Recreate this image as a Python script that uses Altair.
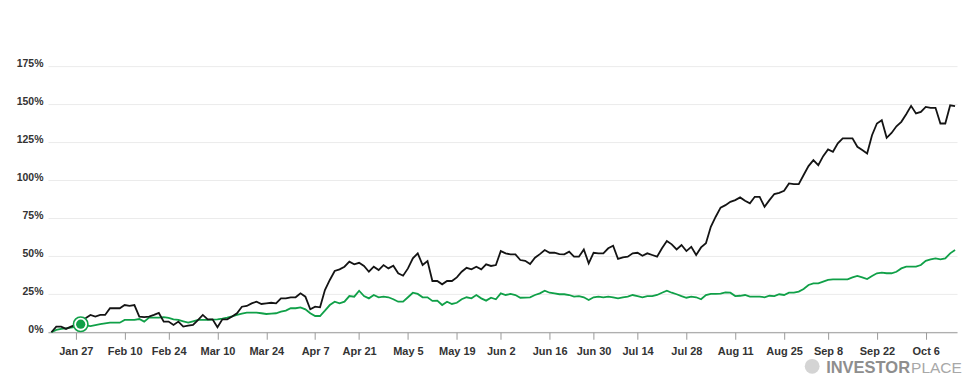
import altair as alt
import pandas as pd

# NYSE holidays 2025 inside the window
holidays = ["2025-01-20", "2025-02-17", "2025-04-18", "2025-05-26",
            "2025-06-19", "2025-07-04", "2025-09-01"]
dates = pd.bdate_range("2025-01-17", "2025-10-14", freq="C", holidays=holidays)
date_str = list(dates.strftime("%Y-%m-%d"))

stock = [
    0, 3.7, 3.7, 2.2, 3.7, 4.8, 8, 9.2, 11.4, 10.3,
    11.4, 11.4, 15.8, 15.8, 15.8, 17.9, 17.3, 17.9, 10.3, 9.9,
    10.3, 11.4, 12.7, 7, 7, 4.8, 7, 3.7, 4.3, 4.8,
    8, 11.4, 8.5, 8.5, 3.3, 8.5, 8.5, 10.3, 12.5, 16.8,
    17.3, 19, 20.1, 18.6, 19, 19.4, 19, 22.3, 22.3, 23,
    23, 25.6, 23.4, 15.1, 16.8, 16.4, 27.8, 34.4, 40.3, 41.4,
    43.1, 46.4, 44.7, 45.7, 43.6, 39.8, 43.1, 40.9, 44.2, 42,
    43.8, 38.8, 37.2, 42, 48.6, 51.9, 44.2, 46.8, 33.7, 33.7,
    31.5, 33.7, 33.7, 36.1, 39.8, 42.4, 41.4, 43.1, 41.4, 44.7,
    43.6, 44.2, 53.4, 51.9, 51.2, 51.2, 47.5, 47, 44.9, 49,
    51.4, 54.1, 52.3, 52.3, 51.4, 51.2, 53, 49.7, 49.7, 54.5,
    45.3, 52.3, 51.9, 51.9, 55.2, 56.9, 48.2, 49.3, 49.7, 51.9,
    52.3, 50.3, 51.9, 50.8, 49.7, 55.2, 60, 57.8, 54.5, 57.4,
    53.4, 56.2, 50.8, 55.8, 58.5, 69.4, 76, 82, 83.6, 85.8,
    86.9, 88.7, 86.5, 84.8, 89.1, 89.1, 82.5, 86.9, 90.9, 91.7,
    93, 97.9, 97.4, 97.4, 103.4, 109.3, 113.2, 109.9, 115.8, 120.2,
    118.7, 124.2, 127.5, 127.5, 127.5, 122, 119.8, 117.6, 129.6, 137.3,
    139.5, 127.9, 131.1, 135.5, 138.4, 143.4, 148.9, 143.9, 144.9, 148.2,
    147.6, 147.6, 137.3, 137.3, 149.3, 148.7,
]

bench = [
    0, 1.5, 2.2, 2.6, 3, 3.5, 4.8, 4.5, 4.1, 4.7,
    5.3, 5.8, 6.3, 6.3, 6.3, 8.1, 8.1, 8.1, 8.7, 7,
    9.6, 9.6, 9.6, 10, 9.4, 8.5, 8.1, 7.2, 6.3, 7.2,
    8.1, 8.1, 8.1, 8.3, 8.5, 9, 9.6, 10.5, 11.4, 12.2,
    12.9, 12.9, 12.9, 12.5, 12, 12.3, 12.5, 13.5, 14.2, 15.8,
    15.8, 16.4, 15.1, 12.5, 10.7, 10.7, 14.2, 17.9, 20.1, 19,
    20.1, 23.8, 23.4, 27.3, 23.8, 22.3, 24.5, 23, 23.4, 23,
    21.7, 20.1, 20.1, 23, 26, 25.2, 23, 23, 20.6, 20.8,
    17.9, 20.1, 18.6, 19.4, 21.7, 23, 22.3, 24.5, 22.3, 20.8,
    22.7, 21.7, 25.6, 24.5, 25.2, 24.5, 22.7, 22.8, 23, 24.5,
    25.6, 27.3, 26, 25.6, 25, 25, 24.5, 23.4, 23.8, 23,
    21.2, 23, 23.4, 23, 23.4, 23, 22.3, 23, 23.4, 24.5,
    23.8, 23, 23.8, 23.8, 24.5, 26, 27.3, 26, 25, 23.8,
    22.7, 23.4, 23, 21.7, 24.5, 25.2, 25.2, 25.4, 26.2, 26,
    23.8, 24, 24.5, 23.4, 23.4, 23.4, 23, 24, 23.8, 25,
    24.5, 26, 26, 26.7, 28.5, 31.1, 32.2, 32.2, 33.3, 34.4,
    34.8, 34.8, 34.8, 34.8, 36.1, 37, 36.1, 35, 37, 38.8,
    39.2, 38.8, 38.8, 39.8, 42, 43.1, 43.1, 43.1, 44.2, 47,
    47.9, 48.6, 47.9, 48.6, 51.9, 54.1,
]

tick_dates = ["2025-01-27", "2025-02-10", "2025-02-24", "2025-03-10", "2025-03-24",
              "2025-04-07", "2025-04-21", "2025-05-05", "2025-05-19", "2025-06-02",
              "2025-06-16", "2025-06-30", "2025-07-14", "2025-07-28", "2025-08-11",
              "2025-08-25", "2025-09-08", "2025-09-22", "2025-10-06"]
tick_labels = ["Jan 27", "Feb 10", "Feb 24", "Mar 10", "Mar 24", "Apr 7", "Apr 21",
               "May 5", "May 19", "Jun 2", "Jun 16", "Jun 30", "Jul 14", "Jul 28",
               "Aug 11", "Aug 25", "Sep 8", "Sep 22", "Oct 6"]
y_ticks = [0, 25, 50, 75, 100, 125, 150, 175]

marker_date = ["2025-01-28"]
marker_val = [5.3]

n = min(len(date_str), len(stock), len(bench))
df = pd.DataFrame({"d": list(range(n)), "date": date_str[:n],
                   "stock": stock[:n], "bench": bench[:n]})

tick_idx = [date_str.index(t) for t in tick_dates]
label_expr = ""
for i, lab in zip(tick_idx, tick_labels):
    label_expr += f"datum.value == {i} ? '{lab}' : "
label_expr += "''"

mk = pd.DataFrame({"d": [date_str.index(m) for m in marker_date], "v": marker_val})

FONT = "Liberation Sans"
GREEN = "#10a048"

x_enc = alt.X("d:Q",
              scale=alt.Scale(domain=[-0.7, 185.4], nice=False, zero=False),
              axis=alt.Axis(values=tick_idx, labelExpr=label_expr, grid=False,
                            domainColor="#9a9a9a", tickColor="#9a9a9a", tickSize=7,
                            labelFont=FONT, labelFontWeight="bold", labelFontSize=11,
                            labelColor="#333333", labelPadding=6, labelOverlap=False,
                            labelFlush=False, title=None))

y_axis = alt.Axis(values=y_ticks, labelExpr="datum.value + '%'", domain=False,
                  ticks=False, grid=True, gridColor="#ebebeb", gridWidth=1,
                  labelBaseline="alphabetic", labelPadding=5, labelFont=FONT,
                  labelFontWeight="bold", labelFontSize=10.5, labelColor="#333333",
                  title=None)
y_scale = alt.Scale(domain=[0, 200], nice=False)

base = alt.Chart(df)
green_line = base.mark_line(color=GREEN, strokeWidth=1.8).encode(
    x=x_enc, y=alt.Y("bench:Q", scale=y_scale, axis=y_axis))
black_line = base.mark_line(color="#141414", strokeWidth=1.8).encode(
    x="d:Q", y="stock:Q")

ring = alt.Chart(mk).mark_point(shape="circle", filled=False, color=GREEN,
                                fill="white", fillOpacity=1, strokeWidth=1.6,
                                size=210, opacity=1).encode(x="d:Q", y="v:Q")
dot = alt.Chart(mk).mark_point(shape="circle", filled=True, color=GREEN,
                               size=85, opacity=1).encode(x="d:Q", y="v:Q")

logo_df = pd.DataFrame({"a": ["INVESTOR"], "b": ["PLACE"]})
globe = alt.Chart(logo_df).mark_point(shape="circle", filled=True, color="#cfcfcf",
                                      size=220, opacity=0.9).encode(
    x=alt.value(765), y=alt.value(338.5))
logo1 = alt.Chart(logo_df).mark_text(font=FONT, fontSize=16.5, fontWeight="bold",
                                     color="#8e8e8e", align="left",
                                     baseline="alphabetic").encode(
    x=alt.value(779), y=alt.value(345.5), text="a:N")
logo2 = alt.Chart(logo_df).mark_text(font=FONT, fontSize=15.5, fontWeight="normal",
                                     color="#a8a8a8", align="left",
                                     baseline="alphabetic").encode(
    x=alt.value(864), y=alt.value(345.5), text="b:N")

chart = alt.layer(green_line, black_line, ring, dot, globe, logo1, logo2).properties(
    width=910, height=304.4,
    padding={"left": 40, "top": 20, "right": 10, "bottom": 52},
    autosize=alt.AutoSizeParams(type="none"),
    background="white",
).configure_view(stroke=None)

chart.save("out.html", embed_options={"renderer": "svg", "actions": False})
